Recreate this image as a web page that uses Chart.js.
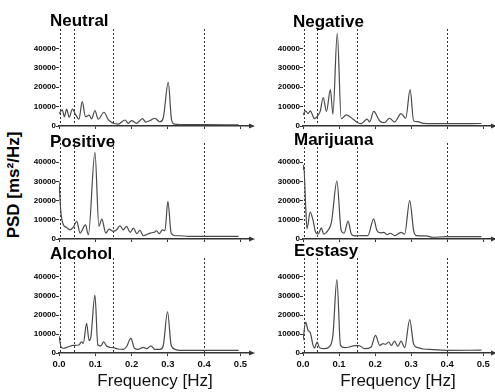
<!DOCTYPE html>
<html><head><meta charset="utf-8">
<script src="https://cdn.jsdelivr.net/npm/chart.js@4.4.1/dist/chart.umd.min.js"></script>
<style>
html,body{margin:0;padding:0;background:#fff;width:495px;height:392px;overflow:hidden;position:relative;font-family:'Liberation Sans',Arial,sans-serif}
canvas{position:absolute}
.ttl{position:absolute;font-weight:bold;font-size:17px;line-height:17px;color:#000;white-space:nowrap}
#ylab{position:absolute;left:12.5px;top:185px;font-weight:bold;font-size:17px;line-height:17px;white-space:nowrap;color:#000;transform:translate(-50%,-50%) rotate(-90deg)}
</style></head><body>
<div id="ylab">PSD [ms²/Hz]</div>
<script>
// ---- data ----
const xTicks = [0, 0.1, 0.2, 0.3, 0.4, 0.5];
const yTicks = [0, 10000, 20000, 30000, 40000];
const bandEdges = [0.0033, 0.04, 0.15, 0.4];
const panelTitles = ['Neutral', 'Negative', 'Positive', 'Marijuana', 'Alcohol', 'Ecstasy'];

const neutralF = [0, 0.009, 0.015, 0.021, 0.028, 0.037, 0.046, 0.055, 0.064, 0.073, 0.083, 0.090, 0.099, 0.108, 0.124, 0.136, 0.150, 0.163, 0.182, 0.191, 0.200, 0.214, 0.230, 0.239, 0.251, 0.264, 0.278, 0.287, 0.301, 0.310, 0.318, 0.355, 0.400, 0.495];
const neutralP = [6200, 8300, 4800, 8700, 4500, 8700, 5700, 3500, 12600, 4800, 5600, 3700, 8000, 3500, 7100, 3100, 1400, 1000, 3100, 1400, 2800, 1400, 3800, 2000, 2800, 4000, 2200, 4000, 22500, 3300, 1000, 700, 700, 600];

const negativeF = [0, 0.0075, 0.014, 0.020, 0.032, 0.042, 0.048, 0.056, 0.065, 0.076, 0.083, 0.095, 0.106, 0.120, 0.139, 0.152, 0.162, 0.178, 0.185, 0.196, 0.213, 0.226, 0.240, 0.254, 0.272, 0.285, 0.297, 0.307, 0.319, 0.333, 0.397, 0.495];
const negativeP = [5700, 7800, 6400, 7800, 3800, 5600, 7800, 14700, 7500, 18700, 6100, 47700, 3800, 5700, 3500, 1700, 1200, 3500, 2100, 7500, 2600, 1700, 4000, 2100, 6400, 4000, 18700, 2600, 2300, 1400, 1200, 1300];

const positiveF = [0, 0.0055, 0.012, 0.021, 0.030, 0.039, 0.049, 0.058, 0.073, 0.081, 0.099, 0.110, 0.118, 0.129, 0.138, 0.150, 0.159, 0.168, 0.177, 0.186, 0.196, 0.205, 0.214, 0.223, 0.232, 0.251, 0.263, 0.269, 0.276, 0.285, 0.292, 0.300, 0.309, 0.320, 0.333, 0.356, 0.402, 0.495];
const positiveP = [30000, 13500, 7400, 6000, 4800, 6000, 9200, 3100, 7400, 2200, 45100, 6600, 10400, 3100, 5100, 4000, 4800, 6900, 4800, 6600, 3500, 5700, 2800, 4500, 1700, 3100, 3500, 4300, 2800, 4800, 4300, 19600, 3100, 1700, 1700, 1400, 1400, 1400];

const marijuanaF = [0, 0.002, 0.0075, 0.011, 0.020, 0.028, 0.035, 0.042, 0.051, 0.057, 0.069, 0.079, 0.094, 0.106, 0.114, 0.125, 0.134, 0.143, 0.162, 0.180, 0.196, 0.205, 0.215, 0.224, 0.233, 0.242, 0.254, 0.272, 0.282, 0.296, 0.307, 0.314, 0.342, 0.360, 0.397, 0.495];
const marijuanaP = [36000, 38500, 16600, 5300, 14000, 9600, 3500, 2600, 5800, 2600, 4400, 8800, 30100, 4400, 3000, 9300, 2600, 1600, 1800, 1800, 10500, 4400, 3200, 3500, 2300, 3000, 1800, 3500, 2600, 20000, 4400, 1800, 1600, 900, 1200, 1200];

const alcoholF = [0, 0.0055, 0.012, 0.026, 0.039, 0.055, 0.062, 0.067, 0.076, 0.083, 0.088, 0.099, 0.107, 0.115, 0.123, 0.131, 0.140, 0.150, 0.163, 0.177, 0.186, 0.198, 0.208, 0.219, 0.232, 0.242, 0.253, 0.264, 0.278, 0.287, 0.299, 0.309, 0.320, 0.333, 0.402, 0.495];
const alcoholP = [9000, 3300, 2500, 3300, 4000, 4200, 5900, 5100, 15600, 6500, 8600, 30500, 4200, 3700, 5900, 3700, 3000, 2800, 2100, 1900, 3300, 7700, 2500, 1900, 3000, 2300, 3700, 1900, 1900, 3700, 21700, 4200, 1900, 1400, 1400, 1400];

const ecstasyF = [0, 0.0075, 0.014, 0.020, 0.028, 0.032, 0.039, 0.046, 0.060, 0.074, 0.083, 0.094, 0.104, 0.116, 0.130, 0.143, 0.155, 0.171, 0.189, 0.201, 0.213, 0.222, 0.229, 0.238, 0.245, 0.254, 0.263, 0.272, 0.282, 0.296, 0.307, 0.319, 0.333, 0.360, 0.397, 0.495];
const ecstasyP = [6700, 16300, 11900, 10800, 4000, 2600, 5800, 2800, 2300, 3500, 9300, 38600, 4000, 2800, 3200, 3900, 3900, 2300, 3200, 9300, 4000, 4900, 4600, 5800, 4000, 6300, 3500, 6300, 2800, 17600, 4600, 2800, 2100, 1800, 1400, 1500];

// ---- layout ----
const FONT = "'Liberation Sans', Arial, sans-serif";
const cols = [
  {l: 15, w: 241, pr: 5, xmax: 0.529},
  {l: 259, w: 236, pr: 2, xmax: 0.527}
];
const rows = [
  {t: 27, h: 107, xh: 8, showX: false},
  {t: 141, h: 106, xh: 8, showX: false},
  {t: 256, h: 136, xh: 39, showX: true}
];
const titlePos = [[50, 12], [293, 12.5], [50, 133], [294, 131], [50, 245], [294, 242]];
const series = [[neutralF, neutralP], [negativeF, negativeP], [positiveF, positiveP], [marijuanaF, marijuanaP], [alcoholF, alcoholP], [ecstasyF, ecstasyP]];

const bandLines = {
  id: 'bandLines',
  beforeDatasetsDraw(chart) {
    const {ctx, chartArea: a, scales: {x}} = chart;
    ctx.save();
    ctx.strokeStyle = '#333'; ctx.lineWidth = 1; ctx.setLineDash([2, 2]);
    bandEdges.forEach(f => {
      const px = Math.round(x.getPixelForValue(f)) + 0.5;
      ctx.beginPath(); ctx.moveTo(px, a.top); ctx.lineTo(px, a.bottom); ctx.stroke();
    });
    ctx.restore();
  },
  afterDraw(chart) {
    const {ctx, chartArea: a} = chart;
    ctx.save();
    ctx.fillStyle = '#333';
    ctx.beginPath();
    ctx.moveTo(a.right + 4, a.bottom);
    ctx.lineTo(a.right - 2, a.bottom - 2.5);
    ctx.lineTo(a.right - 2, a.bottom + 2.5);
    ctx.closePath(); ctx.fill();
    ctx.restore();
  }
};

series.forEach((s, i) => {
  const col = cols[i % 2], row = rows[Math.floor(i / 2)];
  const cv = document.createElement('canvas');
  cv.width = col.w; cv.height = row.h;
  cv.style.left = col.l + 'px'; cv.style.top = row.t + 'px';
  document.body.appendChild(cv);

  const tt = document.createElement('div');
  tt.className = 'ttl'; tt.textContent = panelTitles[i];
  tt.style.left = titlePos[i][0] + 'px'; tt.style.top = titlePos[i][1] + 'px';
  document.body.appendChild(tt);

  new Chart(cv, {
    type: 'line',
    data: {datasets: [{
      data: s[0].map((f, k) => ({x: f, y: s[1][k]})),
      borderColor: '#4a4a4a', borderWidth: 1.2, pointRadius: 0,
      cubicInterpolationMode: 'monotone', fill: false
    }]},
    options: {
      responsive: false, animation: false, devicePixelRatio: 1,
      layout: {padding: {left: 0, right: col.pr, top: 2, bottom: 0}},
      plugins: {legend: {display: false}, tooltip: {enabled: false}},
      scales: {
        x: {
          type: 'linear', min: 0, max: col.xmax,
          afterBuildTicks: sc => { sc.ticks = xTicks.map(v => ({value: v})); },
          afterFit: sc => { sc.height = row.xh; sc.paddingLeft = 0; sc.paddingRight = 0; },
          border: {display: true, color: '#333', width: 1.5},
          grid: {display: true, drawOnChartArea: false, drawTicks: true, tickLength: 3, color: '#333'},
          ticks: {display: row.showX, padding: 3, color: '#111', maxRotation: 0, autoSkip: false,
                  font: {family: FONT, size: 9.5, weight: 'bold'},
                  callback: v => Number(v).toFixed(1)},
          title: {display: row.showX, text: 'Frequency [Hz]', color: '#111',
                  font: {family: FONT, size: 17}, padding: {top: 0, bottom: 0}}
        },
        y: {
          min: 0, max: 50000,
          afterBuildTicks: sc => { sc.ticks = yTicks.map(v => ({value: v})); },
          afterFit: sc => { sc.width = 44; sc.paddingTop = 0; sc.paddingBottom = 0; },
          border: {display: false},
          grid: {display: true, drawOnChartArea: false, drawTicks: true, tickLength: 3, color: '#333'},
          ticks: {padding: 0, color: '#000', font: {family: FONT, size: 8, weight: 'bold'},
                  callback: v => String(v)}
        }
      }
    },
    plugins: [bandLines]
  });
});
</script>
</body></html>
